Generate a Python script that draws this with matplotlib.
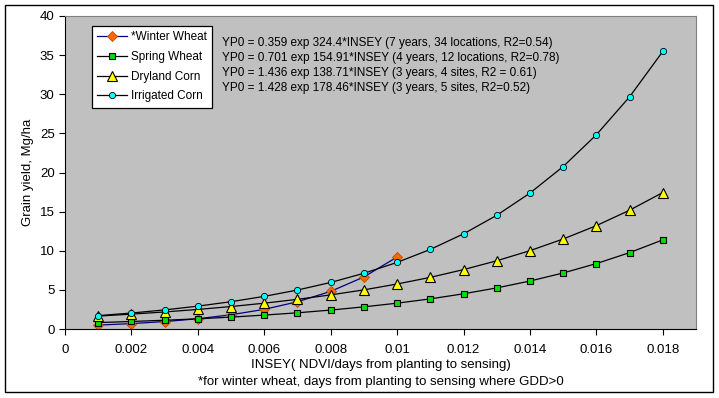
import numpy as np
import matplotlib.pyplot as plt
from matplotlib.patches import Rectangle

plt.rcParams['font.family'] = ['Liberation Sans', 'DejaVu Sans']

insey = [0.001, 0.002, 0.003, 0.004, 0.005, 0.006, 0.007, 0.008, 0.009,
         0.010, 0.011, 0.012, 0.013, 0.014, 0.015, 0.016, 0.017, 0.018]
insey_ww = insey[:10]

winter_wheat = [0.50, 0.69, 0.95, 1.31, 1.82, 2.51, 3.48, 4.81, 6.65, 9.20]
spring_wheat = [0.82, 0.96, 1.12, 1.30, 1.52, 1.78, 2.07, 2.42, 2.83, 3.30,
                3.85, 4.50, 5.25, 6.13, 7.16, 8.36, 9.76, 11.39]
dryland_corn = [1.65, 1.90, 2.18, 2.50, 2.87, 3.30, 3.79, 4.36, 5.00, 5.75,
                6.60, 7.59, 8.72, 10.01, 11.50, 13.21, 15.18, 17.44]
irrigated_corn = [1.71, 2.04, 2.44, 2.92, 3.49, 4.17, 4.98, 5.95, 7.12, 8.51,
                  10.17, 12.16, 14.53, 17.37, 20.76, 24.82, 29.67, 35.47]

equations = [
    'YP0 = 0.359 exp 324.4*INSEY (7 years, 34 locations, R2=0.54)',
    'YP0 = 0.701 exp 154.91*INSEY (4 years, 12 locations, R2=0.78)',
    'YP0 = 1.436 exp 138.71*INSEY (3 years, 4 sites, R2 = 0.61)',
    'YP0 = 1.428 exp 178.46*INSEY (3 years, 5 sites, R2=0.52)',
]
xticks = [0, 0.002, 0.004, 0.006, 0.008, 0.01, 0.012, 0.014, 0.016, 0.018]
xtick_labels = ['0', '0.002', '0.004', '0.006', '0.008', '0.01', '0.012',
                '0.014', '0.016', '0.018']

fig = plt.figure(figsize=(7.19, 3.98), dpi=100)
ax = fig.add_axes([65 / 719, 1 - 329 / 398, 631 / 719, 313 / 398])
ax.set_facecolor('#c0c0c0')

ax.plot(insey_ww, winter_wheat, color='#000080', lw=0.9, marker='D', ms=5.5,
        mfc='#ff6600', mec='#b84a00', mew=0.6, label='*Winter Wheat')
ax.plot(insey, spring_wheat, color='black', lw=0.9, marker='s', ms=5,
        mfc='#00e000', mec='black', mew=0.8, label='Spring Wheat')
ax.plot(insey, dryland_corn, color='black', lw=0.9, marker='^', ms=7,
        mfc='#ffff00', mec='black', mew=0.8, label='Dryland Corn')
ax.plot(insey, irrigated_corn, color='black', lw=0.9, marker='o', ms=4.5,
        mfc='#00ffff', mec='black', mew=0.6, label='Irrigated Corn')

ax.set_xlim(0, 0.019)
ax.set_ylim(0, 40)
ax.set_xticks(xticks)
ax.set_xticklabels(xtick_labels)
ax.set_yticks(range(0, 41, 5))
ax.tick_params(direction='out', length=4, labelsize=9.5, colors='black')
ax.tick_params(axis='x', pad=7)
for side in ['top', 'right']:
    ax.spines[side].set_color('#808080')
for side in ['left', 'bottom']:
    ax.spines[side].set_color('black')

ax.set_ylabel('Grain yield, Mg/ha', fontsize=9.5)
ax.set_xlabel('INSEY( NDVI/days from planting to sensing)\n'
              '*for winter wheat, days from planting to sensing where GDD>0',
              fontsize=9.5, labelpad=2, linespacing=1.6)

leg = ax.legend(loc='upper left', bbox_to_anchor=(27 / 631, 1 - 10 / 313),
                fontsize=8.5, frameon=True, fancybox=False, framealpha=1,
                edgecolor='black', handlelength=2.5, borderpad=0.45,
                labelspacing=0.65, handletextpad=0.35, borderaxespad=0)
leg.get_frame().set_linewidth(0.9)

for i, eq in enumerate(equations):
    ax.text(0.00474, 36.55 - i * 1.92, eq, fontsize=8.5, va='center', ha='left')

fig.patches.append(Rectangle((5 / 719, 6 / 398), 708 / 719, 387 / 398,
                             transform=fig.transFigure, fill=False,
                             edgecolor='black', lw=1))

fig.savefig('out.png', dpi=100)
